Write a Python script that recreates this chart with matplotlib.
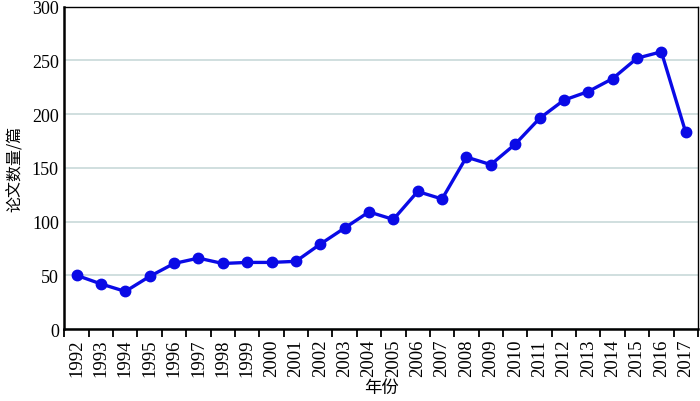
import matplotlib
matplotlib.use("Agg")
import matplotlib.pyplot as plt
import numpy as np

years = [str(y) for y in range(1992, 2018)]
counts = [50, 42, 35, 49, 61, 66, 61, 62, 62, 63, 79, 94, 109, 102,
          128, 121, 160, 153, 172, 196, 213, 221, 233, 252, 258, 183]
y_ticks = [0, 50, 100, 150, 200, 250, 300]

SERIF = ["Liberation Serif", "DejaVu Serif"]
CJK = ["Noto Sans CJK SC", "DejaVu Sans"]
BLUE = "#0a0ae6"

fig = plt.figure(figsize=(7.0, 4.02), dpi=100)
ax = fig.add_axes([0.092, 0.179, 0.905, 0.802])

x = np.arange(len(years))
ax.plot(x, counts, color=BLUE, lw=2.4, marker="o", ms=7.5, zorder=3)

ax.set_xlim(-0.5, len(years) - 0.5)
ax.set_ylim(0, 300)

# tick marks sit between categories, labels centred on them
ax.set_xticks(np.arange(-0.5, len(years)), labels=[])
ax.set_xticks(x, minor=True)
ax.set_xticklabels(years, minor=True, rotation=90, fontsize=13.5, family=SERIF)
ax.tick_params(axis="x", which="major", length=6, width=1.3, direction="out")
ax.tick_params(axis="x", which="minor", length=0, pad=7)

ax.set_yticks(y_ticks)
ax.set_yticklabels([str(v) for v in y_ticks], fontsize=13, family=SERIF)
ax.tick_params(axis="y", length=0, pad=4)

ax.grid(axis="y", color="#cddcdc", lw=1.3, zorder=0)
ax.set_axisbelow(True)

for side in ("left", "bottom"):
    ax.spines[side].set_linewidth(1.8)
for side in ("top", "right"):
    ax.spines[side].set_linewidth(1.0)

ax.set_xlabel("年份", fontsize=12.5, family=CJK, labelpad=1)
ax.set_ylabel("论文数量/篇", fontsize=11.5, family=CJK, labelpad=6)

fig.savefig("out.png", dpi=100)
